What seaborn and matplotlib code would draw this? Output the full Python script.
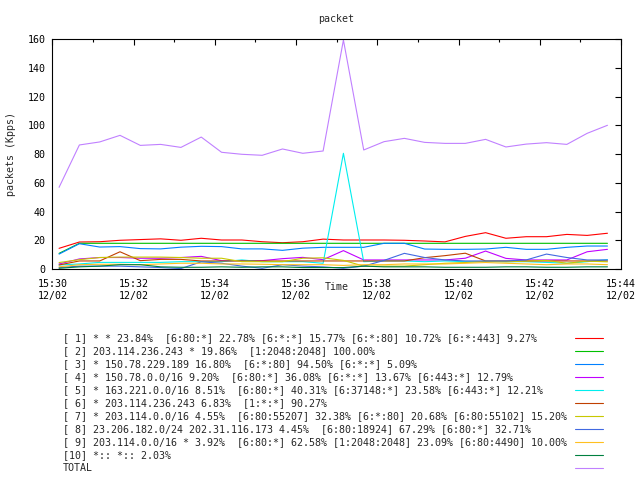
import matplotlib
matplotlib.use("Agg")
import matplotlib.dates as mdates
import matplotlib.pyplot as plt
import pandas as pd
import seaborn as sns
from matplotlib.lines import Line2D

# samples every 30 s
times = pd.date_range("2010-12-02 15:30:10", periods=28, freq="30s")

s1 = [14.4, 18.8, 19.0, 20.0, 20.5, 21.0, 20.0, 21.4, 20.2, 20.2, 19.0, 18.3, 19.0, 20.8,
      20.2, 20.2, 20.2, 20.0, 19.5, 18.9, 22.7, 25.3, 21.4, 22.5, 22.5, 24.1, 23.4, 24.9]
s2 = [10.9, 17.9, 17.9, 17.9, 17.9, 17.9, 17.9, 17.9, 17.9, 17.9, 17.9, 17.9, 17.9, 17.9,
      17.9, 17.9, 17.9, 17.9, 17.9, 17.9, 17.9, 17.9, 17.9, 17.9, 17.9, 17.9, 17.9, 17.9]
s3 = [10.4, 17.6, 15.3, 15.6, 14.2, 14.0, 15.2, 15.8, 15.6, 14.0, 14.0, 13.0, 14.5, 15.1,
      15.1, 15.1, 17.9, 17.9, 13.9, 13.7, 13.7, 13.9, 15.1, 13.7, 13.7, 15.1, 16.0, 16.0]
s4 = [3.5, 7.0, 8.0, 8.0, 7.5, 7.5, 8.0, 8.8, 5.8, 5.8, 5.8, 7.2, 8.1, 6.5,
      12.8, 6.3, 6.3, 6.3, 6.3, 6.3, 7.5, 12.5, 7.4, 6.3, 6.3, 6.3, 12.0, 13.7]
s5 = [2.8, 3.5, 4.6, 4.6, 4.6, 4.6, 5.1, 5.1, 5.1, 6.3, 5.1, 5.1, 5.1, 4.0,
      80.6, 5.1, 5.6, 5.6, 5.1, 5.6, 5.1, 5.1, 5.1, 5.1, 4.6, 4.0, 5.1, 6.5]
s6 = [2.8, 5.6, 5.6, 12.0, 5.8, 6.7, 6.7, 5.6, 5.6, 5.6, 5.6, 5.6, 5.6, 5.6,
      5.6, 5.6, 5.6, 5.6, 7.9, 9.3, 11.0, 5.6, 5.6, 5.6, 5.6, 5.6, 5.6, 5.6]
s7 = [4.5, 6.5, 8.0, 8.3, 8.3, 8.3, 8.0, 7.5, 7.5, 5.1, 5.1, 5.1, 7.5, 7.8,
      6.0, 2.0, 2.0, 2.0, 3.0, 4.0, 4.5, 5.5, 5.0, 5.5, 6.0, 4.0, 5.5, 5.0]
s8 = [1.0, 2.0, 2.0, 2.0, 1.5, 1.0, 0.3, 5.0, 4.0, 2.0, 0.5, 3.0, 2.0, 1.5,
      0.5, 2.0, 6.0, 10.9, 8.0, 6.3, 5.6, 5.6, 5.6, 6.3, 10.4, 8.0, 6.3, 6.3]
s9 = [1.5, 3.0, 3.3, 3.3, 3.0, 3.5, 4.0, 4.0, 3.5, 3.5, 3.3, 3.0, 3.0, 3.0,
      2.5, 3.0, 3.0, 3.5, 3.5, 3.5, 4.0, 4.5, 4.0, 3.5, 3.0, 3.5, 3.5, 3.0]
s10 = [0.5, 1.5, 2.0, 3.0, 3.0, 1.5, 1.2, 1.2, 1.5, 1.2, 1.5, 1.5, 1.0, 1.0,
       1.0, 2.0, 1.5, 1.5, 1.5, 1.2, 1.2, 1.2, 1.5, 1.5, 1.2, 1.2, 1.5, 1.5]
total = [56.9, 86.4, 88.5, 93.1, 86.1, 86.8, 84.7, 91.9, 81.3, 79.9, 79.2, 83.6, 80.6, 82.2,
         159.5, 82.9, 88.7, 91.0, 88.2, 87.5, 87.5, 90.3, 85.0, 87.0, 88.0, 86.8, 94.5, 100.1]

labels = [
    "[ 1] * * 23.84%  [6:80:*] 22.78% [6:*:*] 15.77% [6:*:80] 10.72% [6:*:443] 9.27%",
    "[ 2] 203.114.236.243 * 19.86%  [1:2048:2048] 100.00%",
    "[ 3] * 150.78.229.189 16.80%  [6:*:80] 94.50% [6:*:*] 5.09%",
    "[ 4] * 150.78.0.0/16 9.20%  [6:80:*] 36.08% [6:*:*] 13.67% [6:443:*] 12.79%",
    "[ 5] * 163.221.0.0/16 8.51%  [6:80:*] 40.31% [6:37148:*] 23.58% [6:443:*] 12.21%",
    "[ 6] * 203.114.236.243 6.83%  [1:*:*] 90.27%",
    "[ 7] * 203.114.0.0/16 4.55%  [6:80:55207] 32.38% [6:*:80] 20.68% [6:80:55102] 15.20%",
    "[ 8] 23.206.182.0/24 202.31.116.173 4.45%  [6:80:18924] 67.29% [6:80:*] 32.71%",
    "[ 9] 203.114.0.0/16 * 3.92%  [6:80:*] 62.58% [1:2048:2048] 23.09% [6:80:4490] 10.00%",
    "[10] *:: *:: 2.03%",
    "TOTAL",
]
colors = ["#ff0000", "#00c000", "#0080ff", "#c000ff", "#00eeee", "#c04000",
          "#c8c800", "#4169e1", "#ffc020", "#008040", "#c080ff"]

series = [s1, s2, s3, s4, s5, s6, s7, s8, s9, s10, total]
frames = []
for lab, vals in zip(labels, series):
    frames.append(pd.DataFrame({"time": times, "value": vals, "series": lab}))
df = pd.concat(frames, ignore_index=True)

sns.set_style("white")
plt.rcParams["font.family"] = ["DejaVu Sans Mono"]
plt.rcParams["font.size"] = 7.2

W, H = 640, 480
fig = plt.figure(figsize=(6.4, 4.8), dpi=100)
ax = fig.add_axes([52.3 / W, 1 - 269 / H, (621 - 52.3) / W, (269 - 39.3) / H])
sns.lineplot(data=df, x="time", y="value", hue="series", hue_order=labels,
             palette=colors, linewidth=0.8, ax=ax, legend=False)

ax.set_ylim(0, 160)
ax.set_yticks(range(0, 161, 20))
ax.set_xlim(pd.Timestamp("2010-12-02 15:30"), pd.Timestamp("2010-12-02 15:44"))
ax.xaxis.set_major_locator(mdates.MinuteLocator(byminute=range(0, 60, 2)))
ax.xaxis.set_minor_locator(mdates.MinuteLocator())
ax.xaxis.set_major_formatter(mdates.DateFormatter("%H:%M\n%m/%d"))
ax.tick_params(which="both", direction="in", top=True, right=True, color="black",
               width=0.8, labelsize=7.2, labelcolor="black")
ax.tick_params(which="major", length=4.3)
ax.tick_params(which="minor", length=2.2)
ax.tick_params(axis="y", pad=5)
ax.tick_params(axis="x", pad=7.3)
for sp in ax.spines.values():
    sp.set_color("black")
    sp.set_linewidth(0.8)

ax.set_ylabel("packets (Kpps)", fontsize=7.2, labelpad=8)
ax.set_xlabel("Time", fontsize=7.2)
ax.xaxis.set_label_coords(0.5, -(287 - 269) / 229.7)
ax.xaxis.label.set_va("center")
fig.text(336 / W, 1 - 19 / H, "packet", ha="center", va="center", fontsize=7.2)

# gnuplot-style key: text on the left, line sample on the right
for k, (lab, c) in enumerate(zip(labels, colors)):
    y = 1 - (338 + 13 * k) / H
    fig.text(63 / W, y, lab, ha="left", va="center", fontsize=7.2,
             family="DejaVu Sans Mono")
    fig.add_artist(Line2D([575 / W, 603 / W], [y, y], color=c, linewidth=0.8,
                          transform=fig.transFigure))

fig.savefig("out.png", dpi=100)
